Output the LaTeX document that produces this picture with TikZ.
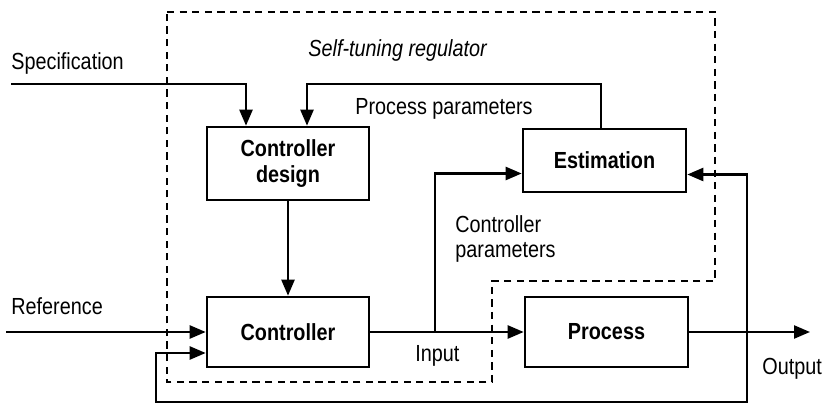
\documentclass[tikz,border=0pt]{standalone}
\usepackage{fontspec}
\setmainfont{Liberation Sans}[FakeStretch=0.85]
\usetikzlibrary{arrows.meta,calc}
\begin{document}
\begin{tikzpicture}[x=0.5pt,y=-0.5pt,
  font=\fontsize{11.65}{13}\selectfont,
  blk/.style={draw, line width=1.3pt, inner sep=0pt, font=\fontsize{11.65}{13}\selectfont\bfseries, align=center},
  conn/.style={line width=1.2pt},
  arr/.style={conn, -{Triangle[length=8pt,width=6.5pt]}},
  lbl/.style={anchor=base west, inner sep=0pt},
  region/.style={line width=1.2pt, dash pattern=on 3.6pt off 2.7pt}]
\useasboundingbox (0,0) rectangle (825,406);
% dashed regulator region
\draw[region] (167,12) -- (715,12) -- (715,281) -- (492,281) -- (492,382) -- (167,382) -- cycle;
% blocks
\node[blk, minimum width=81pt, minimum height=36.5pt] (cd) at (288,163.5) {Controller\\design};
\node[blk, minimum width=81.5pt, minimum height=31.5pt] (est) at (604.5,160.5) {Estimation};
\node[blk, minimum width=81pt, minimum height=35pt] (ctrl) at (288,332) {Controller};
\node[blk, minimum width=81.5pt, minimum height=35pt] (proc) at (606.5,332) {Process};
% free ends
\coordinate (spec) at (11,84);
\coordinate (ppc) at (307,84);
\coordinate (ref) at (6,332);
\coordinate (br) at (435,332);
\coordinate (out) at (810,332);
\coordinate (fbtap) at (747,332);
\coordinate (fbcorner) at (156,402);
% connectors
\draw[arr] (spec) -| ($(cd.north)+(-42,0)$);
\draw[arr] ($(est.north)+(-3.5,0)$) |- (ppc) -- ($(cd.north)+(19,0)$);
\draw[arr] (cd.south) -- (ctrl.north);
\draw[arr] (ref) -- (ctrl.west);
\draw[arr] (ctrl.east) -- (proc.west);
\draw[arr] (br) |- ($(est.west)+(0,13)$);
\draw[arr] (proc.east) -- (out);
\draw[arr] (fbtap) |- ($(est.east)+(0,14)$);
\draw[arr] (fbtap) |- (fbcorner) |- ($(ctrl.west)+(0,21)$);
% labels
\node[lbl] (lspec) at (11,70) {Specification};
\node[lbl] (lstr) at (308,57) {\itshape Self-tuning regulator};
\node[lbl] (lpp) at (355,115) {Process parameters};
\node[lbl, align=left] (lcp) at (455,258) {Controller\\parameters};
\node[lbl] (lref) at (11,315) {Reference};
\node[lbl] (lin) at (415,362) {Input};
\node[lbl] (lout) at (762,375) {Output};
\end{tikzpicture}
\end{document}
